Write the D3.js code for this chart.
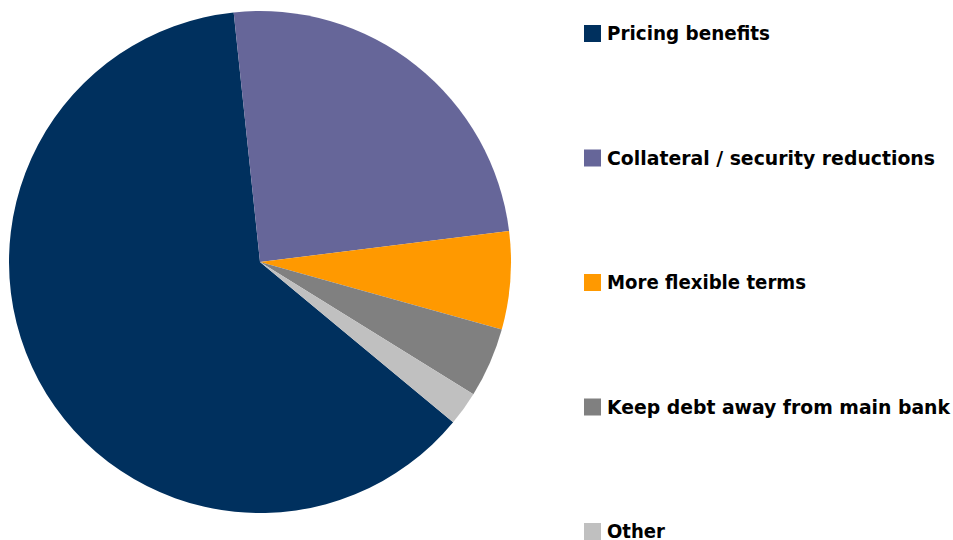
<!DOCTYPE html>
<html><head><meta charset="utf-8">
<script src="https://cdn.jsdelivr.net/npm/d3@7"></script>
<style>html,body{margin:0;padding:0;background:#fff;}svg{display:block;}</style>
</head><body>
<svg id="chart" width="953" height="540"></svg>
<script>
const categories = ["Pricing benefits","Collateral / security reductions","More flexible terms","Keep debt away from main bank","Other"];
const values = [62.3, 24.7, 6.3, 4.5, 2.2];
const colors = ["#00305E","#666699","#FF9900","#808080","#C0C0C0"];
const legendWidths = [163, 328, 199, 343, 58];

const svg = d3.select("#chart");
const cx = 260, cy = 262, r = 251;
const startDeg = 129.7;
const pie = d3.pie().sort(null).value(d => d)
  .startAngle(startDeg * Math.PI / 180)
  .endAngle((startDeg + 360) * Math.PI / 180);
const arc = d3.arc().innerRadius(0).outerRadius(r);
const g = svg.append("g").attr("transform", `translate(${cx},${cy})`);
g.selectAll("path").data(pie(values)).join("path")
  .attr("d", arc).attr("fill", (d,i) => colors[i]);

const ly = d3.scalePoint().domain(categories).range([33.5, 531.5]);
const lg = svg.append("g");
categories.forEach((c,i) => {
  const y = ly(c);
  lg.append("rect").attr("x", 584).attr("y", y - 8.5).attr("width", 17).attr("height", 17).attr("fill", colors[i]);
  lg.append("text").attr("x", 607).attr("y", y + 6.5)
    .attr("font-family", "'DejaVu Sans', sans-serif").attr("font-weight", "bold")
    .attr("font-size", 19).attr("fill", "#000")
    .attr("textLength", legendWidths[i]).attr("lengthAdjust", "spacingAndGlyphs")
    .text(c);
});
</script>
</body></html>
